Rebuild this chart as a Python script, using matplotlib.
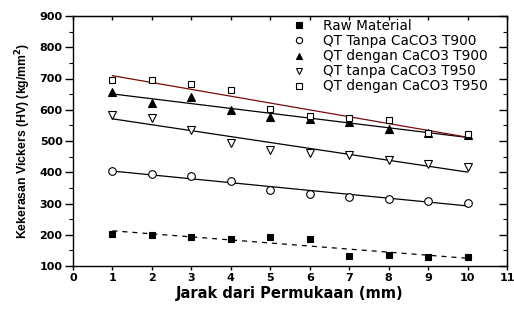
import numpy as np
import matplotlib
matplotlib.use("Agg")
import matplotlib.pyplot as plt

plt.rcParams['font.family'] = ['DejaVu Sans']

x = np.arange(1, 11)
raw = [202, 199, 193, 188, 193, 188, 131, 135, 129, 129]
qt_tanpa_900 = [405, 395, 387, 372, 342, 331, 322, 314, 309, 303]
qt_dengan_900 = [657, 622, 641, 600, 577, 570, 560, 538, 525, 520]
qt_tanpa_950 = [582, 574, 536, 495, 470, 462, 456, 438, 426, 418]
qt_dengan_950 = [696, 695, 681, 662, 603, 579, 575, 566, 527, 521]

labels = ["Raw Material", "QT Tanpa CaCO3 T900", "QT dengan CaCO3 T900",
          "QT tanpa CaCO3 T950", "QT dengan CaCO3 T950"]

fig = plt.figure(figsize=(5.14, 3.09), dpi=100)
ax = fig.add_axes([73/514, 1-266/309, 434/514, 250/309])

series = [
    (raw, dict(marker='s', mfc='black', mec='black', ms=5), dict(color='black', ls=(0, (4, 4)))),
    (qt_tanpa_900, dict(marker='o', mfc='white', mec='black', ms=5.5), dict(color='black', ls='-')),
    (qt_dengan_900, dict(marker='^', mfc='black', mec='black', ms=6), dict(color='black', ls='-')),
    (qt_tanpa_950, dict(marker='v', mfc='white', mec='black', ms=6), dict(color='black', ls='-')),
    (qt_dengan_950, dict(marker='s', mfc='white', mec='black', ms=5), dict(color='#7a0a0a', ls='-')),
]
handles = []
for (y, mk, ln), lab in zip(series, labels):
    h, = ax.plot(x, y, ls='none', mew=0.8, label=lab, zorder=3, **mk)
    handles.append(h)
    p = np.polyfit(x, y, 1)
    ax.plot(x, np.polyval(p, x), lw=0.9, zorder=2, **ln)

ax.set_xlim(0, 11)
ax.set_ylim(100, 900)
ax.set_xticks(range(0, 12))
ax.set_yticks(range(100, 1000, 100))
ax.set_yticks(range(150, 900, 100), minor=True)
ax.tick_params(axis='x', direction='out', length=3, width=1, labelsize=8, pad=2)
ax.tick_params(axis='y', direction='out', length=5.5, width=1, labelsize=8, pad=2)
ax.tick_params(axis='y', which='minor', direction='out', length=3, width=0.8)
for lbl in ax.get_xticklabels() + ax.get_yticklabels():
    lbl.set_fontweight('bold')
for s in ax.spines.values():
    s.set_linewidth(1.0)

top = ax.secondary_xaxis('top')
top.set_xticks(range(0, 12))
top.tick_params(direction='in', length=3, width=1, labeltop=False)
right = ax.secondary_yaxis('right')
right.set_yticks(range(100, 1000, 100))
right.set_yticks(range(150, 900, 100), minor=True)
right.tick_params(direction='in', length=5.5, width=1, labelright=False)
right.tick_params(which='minor', direction='in', length=3, width=0.8)

ax.set_xlabel("Jarak dari Permukaan (mm)", fontsize=10.5, fontweight='bold', labelpad=2)
ax.set_ylabel("Kekerasan Vickers (HV) (kg/mm$^\\mathbf{2}$)", fontsize=8.8,
              fontweight='bold', labelpad=5, family=['Liberation Sans', 'DejaVu Sans'])

leg = ax.legend(handles=handles, loc='upper left', bbox_to_anchor=(0.49, 1.012),
                frameon=False, fontsize=9.8, handlelength=1.0, handletextpad=1.3,
                labelspacing=0.08, borderaxespad=0.05)
for h in leg.legend_handles:
    h.set_markersize(4.5)

fig.savefig("out.png", dpi=100)
